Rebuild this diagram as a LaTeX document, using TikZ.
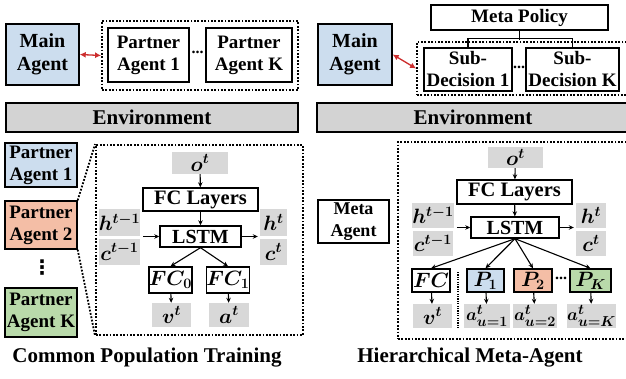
\documentclass[tikz,border=0pt]{standalone}
\usepackage{fontspec}
\setmainfont{Liberation Serif}
\newfontfamily\symfont{DejaVu Sans}
\usepackage{amsmath}
\usepackage{bm}
\usetikzlibrary{arrows.meta, positioning}
\definecolor{agentblue}{RGB}{204,221,238}
\definecolor{agentorange}{RGB}{244,190,166}
\definecolor{agentgreen}{RGB}{185,218,170}
\definecolor{vargray}{RGB}{216,216,216}
\definecolor{envgray}{RGB}{211,211,211}
\definecolor{linkred}{RGB}{204,45,45}

\begin{document}
\begin{tikzpicture}[x=1pt, y=-1pt,
        box/.style={rectangle, draw=black, fill=white, line width=1.4pt, inner sep=0pt, align=center, font=\fontsize{19}{22}\selectfont\bfseries},
        gvar/.style={rectangle, fill=vargray, inner sep=0pt, font=\fontsize{22}{24}\selectfont},
        mbox/.style={box, font=\fontsize{21}{22}\selectfont},
        group/.style={rectangle, draw=black, line width=1.8pt, dash pattern=on 1.8pt off 1.6pt, inner sep=0pt},
        arrow/.style={-{Stealth[length=5pt, width=4.5pt]}, line width=1.1pt},
        link/.style={{Latex[length=6pt, width=6pt]}-{Latex[length=6pt, width=6pt]}, line width=1.3pt, linkred},
        caption/.style={font=\fontsize{21}{24}\selectfont\bfseries}
    ]
    \useasboundingbox (0,0) rectangle (626,379);

    % ---- top left: common population
    \node[box, fill=agentblue, minimum width=73pt, minimum height=61pt, font=\fontsize{20}{23}\selectfont\bfseries] (mainA) at (42.5,54.5) {Main\\Agent};
    \node[group, minimum width=196pt, minimum height=69pt] (popgrp) at (200,55.5) {};
    \node[box, minimum width=81pt, minimum height=54pt] (pa1) at (148.5,55) {Partner\\Agent 1};
    \node[box, minimum width=86pt, minimum height=54pt] (paK) at (249,55) {Partner\\Agent K};
    \node[font=\fontsize{16}{16}\selectfont\bfseries] (dotsA) at (197.5,52) {...};
    \draw[link] (mainA.east) -- (popgrp.west);
    \node[box, fill=envgray, minimum width=292pt, minimum height=29pt, font=\fontsize{21}{24}\selectfont\bfseries] (envA) at (152,117.5) {Environment};

    % ---- top right: meta agent
    \node[box, fill=agentblue, minimum width=74pt, minimum height=61pt, font=\fontsize{20}{23}\selectfont\bfseries] (mainB) at (355,54.5) {Main\\Agent};
    \node[box, minimum width=177pt, minimum height=25pt] (policy) at (519.5,17.5) {Meta Policy};
    \node[group, minimum width=211pt, minimum height=53pt] (subgrp) at (522.5,68.5) {};
    \node[box, minimum width=88pt, minimum height=43pt] (sub1) at (468,69.5) {Sub-\\Decision 1};
    \node[box, minimum width=93pt, minimum height=43pt] (subK) at (572.5,69.5) {Sub-\\Decision K};
    \node[font=\fontsize{16}{16}\selectfont\bfseries] (dotsB) at (519,67) {...};
    \draw[line width=1.2pt] (policy.south) -- ++(0,9);
    \draw[line width=1.2pt] (sub1.north) -- ++(0,-9) -| (subK.north);
    \draw[link] (mainB.east) -- (subgrp.west);
    \node[box, fill=envgray, minimum width=312pt, minimum height=29pt, font=\fontsize{21}{24}\selectfont\bfseries] (envB) at (473,117.5) {Environment};

    % ---- bottom left: partner agents
    \node[box, fill=agentblue, minimum width=72pt, minimum height=44pt] (pop1) at (41,165) {Partner\\Agent 1};
    \node[box, fill=agentorange, minimum width=72pt, minimum height=48pt] (pop2) at (41,225) {Partner\\Agent 2};
    \node[font=\fontsize{20}{20}\selectfont\symfont\bfseries] (vdots) at (42,268) {⋮};
    \node[box, fill=agentgreen, minimum width=72pt, minimum height=49pt] (popK) at (41,312.5) {Partner\\Agent K};
    \node[group, minimum width=207pt, minimum height=190pt] (netA) at (199.5,240) {};
    \draw[group] (pop2.north east) -- (netA.north west);
    \draw[group] (pop2.south east) -- (netA.south west);

    \node[gvar, minimum width=56pt, minimum height=22pt] (obsA) at (200,163) {$\bm{o^t}$};
    \node[box, minimum width=115pt, minimum height=23pt, font=\fontsize{20.5}{22}\selectfont\bfseries] (fcA) at (200.5,199.5) {FC Layers};
    \node[box, minimum width=81pt, minimum height=21pt, font=\fontsize{20}{22}\selectfont\bfseries] (lstmA) at (200.5,236.5) {LSTM};
    \node[gvar, minimum width=41pt, minimum height=27pt] (hinA) at (119.5,222.5) {$\bm{h^{t-1}}$};
    \node[gvar, minimum width=41pt, minimum height=26pt] (cinA) at (119.5,252) {$\bm{c^{t-1}}$};
    \node[gvar, minimum width=27pt, minimum height=27pt] (houtA) at (273.5,222.5) {$\bm{h^t}$};
    \node[gvar, minimum width=27pt, minimum height=26pt] (coutA) at (273.5,252) {$\bm{c^t}$};
    \node[mbox, minimum width=41pt, minimum height=26pt] (fc0) at (170.5,280) {$\bm{FC_0}$};
    \node[mbox, minimum width=40pt, minimum height=26pt] (fc1) at (228,280) {$\bm{FC_1}$};
    \node[gvar, minimum width=39pt, minimum height=24pt] (valA) at (171.5,315) {$\bm{v^t}$};
    \node[gvar, minimum width=40pt, minimum height=24pt] (actA) at (229,315) {$\bm{a^t}$};

    \draw[arrow] (obsA) -- (fcA);
    \draw[arrow] (fcA) -- (lstmA);
    \draw[arrow, shorten <=3pt] (lstmA.west -| hinA.east) -- (lstmA.west);
    \draw[arrow, shorten >=2pt] (lstmA.east) -- (lstmA.east -| houtA.west);
    \draw[arrow] (lstmA.south) -- (fc0.north);
    \draw[arrow] (lstmA.south) -- (fc1.north);
    \draw[arrow] (fc0) -- (valA);
    \draw[arrow] (fc1) -- (actA);

    \node[caption] (capA) at (147,358) {Common Population Training};

    % ---- bottom right: hierarchical meta-agent
    \node[box, minimum width=71pt, minimum height=43pt, font=\fontsize{18}{22}\selectfont\bfseries] (metaAg) at (353.5,221.5) {Meta\\Agent};
    \node[group, minimum width=230pt, minimum height=197pt] (netB) at (513,240.5) {};

    \node[gvar, minimum width=55pt, minimum height=21pt] (obsB) at (515.5,157.5) {$\bm{o^t}$};
    \node[box, minimum width=115pt, minimum height=24pt, font=\fontsize{20.5}{22}\selectfont\bfseries] (fcB) at (514.5,192) {FC Layers};
    \node[box, minimum width=88pt, minimum height=21pt, font=\fontsize{20}{22}\selectfont\bfseries] (lstmB) at (515,227.5) {LSTM};
    \node[gvar, minimum width=40pt, minimum height=25pt] (hinB) at (433,215.5) {$\bm{h^{t-1}}$};
    \node[gvar, minimum width=40pt, minimum height=25pt] (cinB) at (433,243.5) {$\bm{c^{t-1}}$};
    \node[gvar, minimum width=30pt, minimum height=25pt] (houtB) at (591,215.5) {$\bm{h^t}$};
    \node[gvar, minimum width=30pt, minimum height=25pt] (coutB) at (591,243.5) {$\bm{c^t}$};
    \node[mbox, minimum width=38pt, minimum height=23pt] (fcv) at (431,280.5) {$\bm{FC}$};
    \node[mbox, fill=agentblue, minimum width=37pt, minimum height=23pt] (pol1) at (485.5,280.5) {$\bm{P_1}$};
    \node[mbox, fill=agentorange, minimum width=38pt, minimum height=23pt] (pol2) at (533,280.5) {$\bm{P_2}$};
    \node[mbox, fill=agentgreen, minimum width=41pt, minimum height=23pt] (polK) at (590.5,280.5) {$\bm{P_K}$};
    \node[font=\fontsize{16}{16}\selectfont\bfseries] (dotsC) at (561,278) {...};
    \node[gvar, minimum width=39pt, minimum height=24pt] (valB) at (432.5,316) {$\bm{v^t}$};
    \node[gvar, minimum width=46pt, minimum height=24pt, font=\fontsize{19}{20}\selectfont] (act1) at (487,316) {$\bm{a^t_{u=1}}$};
    \node[gvar, minimum width=44pt, minimum height=24pt, font=\fontsize{19}{20}\selectfont] (act2) at (535,316) {$\bm{a^t_{u=2}}$};
    \node[gvar, minimum width=47pt, minimum height=24pt, font=\fontsize{19}{20}\selectfont] (actK) at (591.5,316) {$\bm{a^t_{u=K}}$};
    \coordinate (sepTop) at (458,272);
    \coordinate (sepBot) at (458,328);
    \draw[line width=1.2pt, dash pattern=on 1.2pt off 1.2pt] (sepTop) -- (sepBot);

    \draw[arrow] (obsB) -- (fcB);
    \draw[arrow] (fcB) -- (lstmB);
    \draw[arrow, shorten <=3pt] (lstmB.west -| hinB.east) -- (lstmB.west);
    \draw[arrow, shorten >=2pt] (lstmB.east) -- (lstmB.east -| houtB.west);
    \draw[arrow] (lstmB.south) -- (fcv.north);
    \draw[arrow] (lstmB.south) -- (pol1.north);
    \draw[arrow] (lstmB.south) -- (pol2.north);
    \draw[arrow] (lstmB.south) -- (polK.north);
    \draw[arrow] (fcv) -- (valB);
    \draw[arrow] (pol1) -- (act1);
    \draw[arrow] (pol2) -- (act2);
    \draw[arrow] (polK) -- (actK);

    \node[caption] (capB) at (470,358) {Hierarchical Meta-Agent};

\end{tikzpicture}
\end{document}
